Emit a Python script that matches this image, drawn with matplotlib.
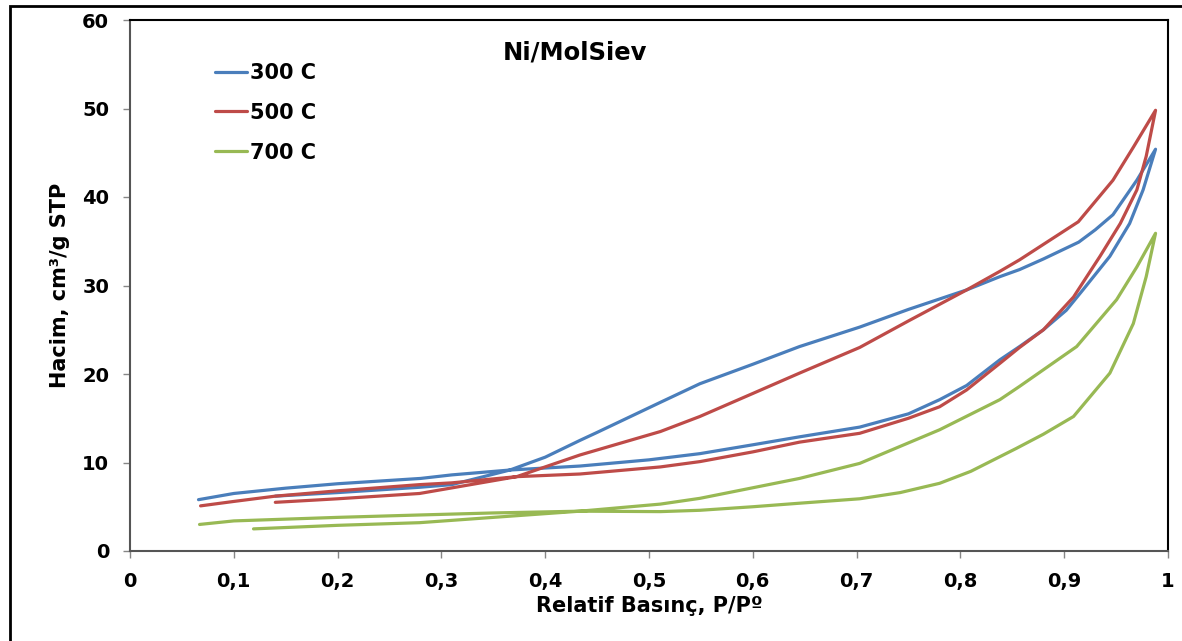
import matplotlib
matplotlib.use("Agg")
import matplotlib.pyplot as plt
from matplotlib.patches import Rectangle
import numpy as np

# 300 C - adsorption (increasing P/Po) and desorption (decreasing)
p300_ads = [0.066, 0.10, 0.15, 0.20, 0.28, 0.31, 0.366, 0.4335, 0.50, 0.549, 0.60, 0.645,
            0.703, 0.75, 0.78, 0.806, 0.838, 0.857, 0.88, 0.902, 0.918, 0.944, 0.963, 0.976, 0.988]
v300_ads = [5.8, 6.5, 7.1, 7.6, 8.2, 8.6, 9.15, 9.6, 10.3, 11.0, 12.0, 12.9,
            14.0, 15.5, 17.1, 18.7, 21.6, 23.1, 25.0, 27.2, 29.5, 33.3, 37.0, 40.8, 45.4]
p300_des = [0.970, 0.947, 0.93, 0.914, 0.88, 0.857, 0.838, 0.806, 0.75, 0.703, 0.645, 0.60,
            0.549, 0.511, 0.45, 0.4335, 0.40, 0.366, 0.31, 0.279, 0.20, 0.14]
v300_des = [41.9, 38.0, 36.3, 34.9, 33.0, 31.8, 31.0, 29.5, 27.3, 25.3, 23.1, 21.1,
            18.9, 16.8, 13.4, 12.5, 10.6, 9.15, 7.5, 7.2, 6.6, 6.2]

# 500 C
p500_ads = [0.068, 0.10, 0.14, 0.20, 0.279, 0.31, 0.3725, 0.4335, 0.511, 0.549, 0.60, 0.645,
            0.703, 0.75, 0.78, 0.806, 0.838, 0.857, 0.88, 0.909, 0.9345, 0.954, 0.970, 0.979, 0.988]
v500_ads = [5.1, 5.6, 6.2, 6.8, 7.5, 7.7, 8.4, 8.7, 9.5, 10.1, 11.2, 12.3,
            13.3, 15.0, 16.3, 18.2, 21.2, 23.0, 25.0, 28.7, 33.3, 37.0, 40.8, 44.6, 49.8]
p500_des = [0.967, 0.947, 0.9136, 0.857, 0.838, 0.806, 0.75, 0.703, 0.645, 0.60,
            0.549, 0.511, 0.4335, 0.3725, 0.279, 0.20, 0.14]
v500_des = [45.7, 41.9, 37.2, 32.9, 31.6, 29.5, 26.0, 23.0, 20.1, 17.8,
            15.2, 13.5, 10.85, 8.4, 6.5, 5.9, 5.5]

# 700 C
p700_ads = [0.067, 0.10, 0.20, 0.279, 0.35, 0.4335, 0.511, 0.549, 0.60, 0.645, 0.703,
            0.742, 0.78, 0.81, 0.854, 0.88, 0.909, 0.944, 0.9666, 0.979, 0.988]
v700_ads = [3.0, 3.4, 3.8, 4.07, 4.3, 4.5, 4.45, 4.6, 5.0, 5.4, 5.9,
            6.6, 7.65, 9.0, 11.6, 13.2, 15.2, 20.1, 25.7, 31.0, 35.9]
p700_des = [0.970, 0.9505, 0.912, 0.857, 0.838, 0.78, 0.703, 0.645, 0.549, 0.511,
            0.4335, 0.35, 0.279, 0.20, 0.119]
v700_des = [32.1, 28.4, 23.1, 18.6, 17.1, 13.7, 9.9, 8.2, 5.95, 5.3,
            4.5, 3.8, 3.2, 2.9, 2.5]

labels = ["300 C", "500 C", "700 C"]
colors = ["#4A7EBB", "#BE4B48", "#98B954"]
x_ticks = [0, 0.1, 0.2, 0.3, 0.4, 0.5, 0.6, 0.7, 0.8, 0.9, 1]
x_ticklabels = ["0", "0,1", "0,2", "0,3", "0,4", "0,5", "0,6", "0,7", "0,8", "0,9", "1"]

W, H = 1182, 641
fig = plt.figure(figsize=(W / 100, H / 100), dpi=100)
ax = fig.add_axes([130 / W, 1 - 551 / H, (1168 - 130) / W, (551 - 20) / H])

series = [
    (p300_ads, v300_ads, p300_des, v300_des),
    (p500_ads, v500_ads, p500_des, v500_des),
    (p700_ads, v700_ads, p700_des, v700_des),
]
for (pa, va, pd, vd), lab, col in zip(series, labels, colors):
    x = np.concatenate([pa, pd])
    y = np.concatenate([va, vd])
    ax.plot(x, y, color=col, lw=2.3, label=lab, solid_joinstyle="round",
            solid_capstyle="round")

ax.set_xlim(0, 1)
ax.set_ylim(0, 60)
ax.set_xticks(x_ticks)
ax.set_xticklabels(x_ticklabels)
ax.set_yticks(range(0, 61, 10))
ax.tick_params(direction="out", length=5, width=1, color="#868686", labelsize=14)
ax.tick_params(axis="x", pad=10)
ax.tick_params(axis="y", pad=10)
for lbl in ax.get_xticklabels() + ax.get_yticklabels():
    lbl.set_fontweight("bold")

for side in ["top", "right"]:
    ax.spines[side].set_color("black")
    ax.spines[side].set_linewidth(1.5)
for side in ["left", "bottom"]:
    ax.spines[side].set_color("#555555")
    ax.spines[side].set_linewidth(1.5)

ax.set_xlabel("Relatif Basınç, P/Pº", fontsize=15, fontweight="bold", labelpad=4)
ax.set_ylabel("Hacim, cm³/g STP", fontsize=15, fontweight="bold", labelpad=9)

ax.text(575 / W, 1 - 52 / H, "Ni/MolSiev", transform=fig.transFigure,
        ha="center", va="center", fontsize=17.5, fontweight="bold")

leg = ax.legend(loc="upper left", bbox_to_anchor=(215 / W, 1 - 63 / H),
                bbox_transform=fig.transFigure, frameon=False,
                prop={"size": 15, "weight": "bold"}, handlelength=1.55,
                handletextpad=0.15, labelspacing=0.95, borderpad=0,
                borderaxespad=0)

# outer chart border
fig.patches.append(Rectangle((10 / W, -0.1), 1.2, 1.1 - 6 / H,
                             transform=fig.transFigure, fill=False,
                             edgecolor="black", lw=2))

fig.savefig("out.png", dpi=100)
